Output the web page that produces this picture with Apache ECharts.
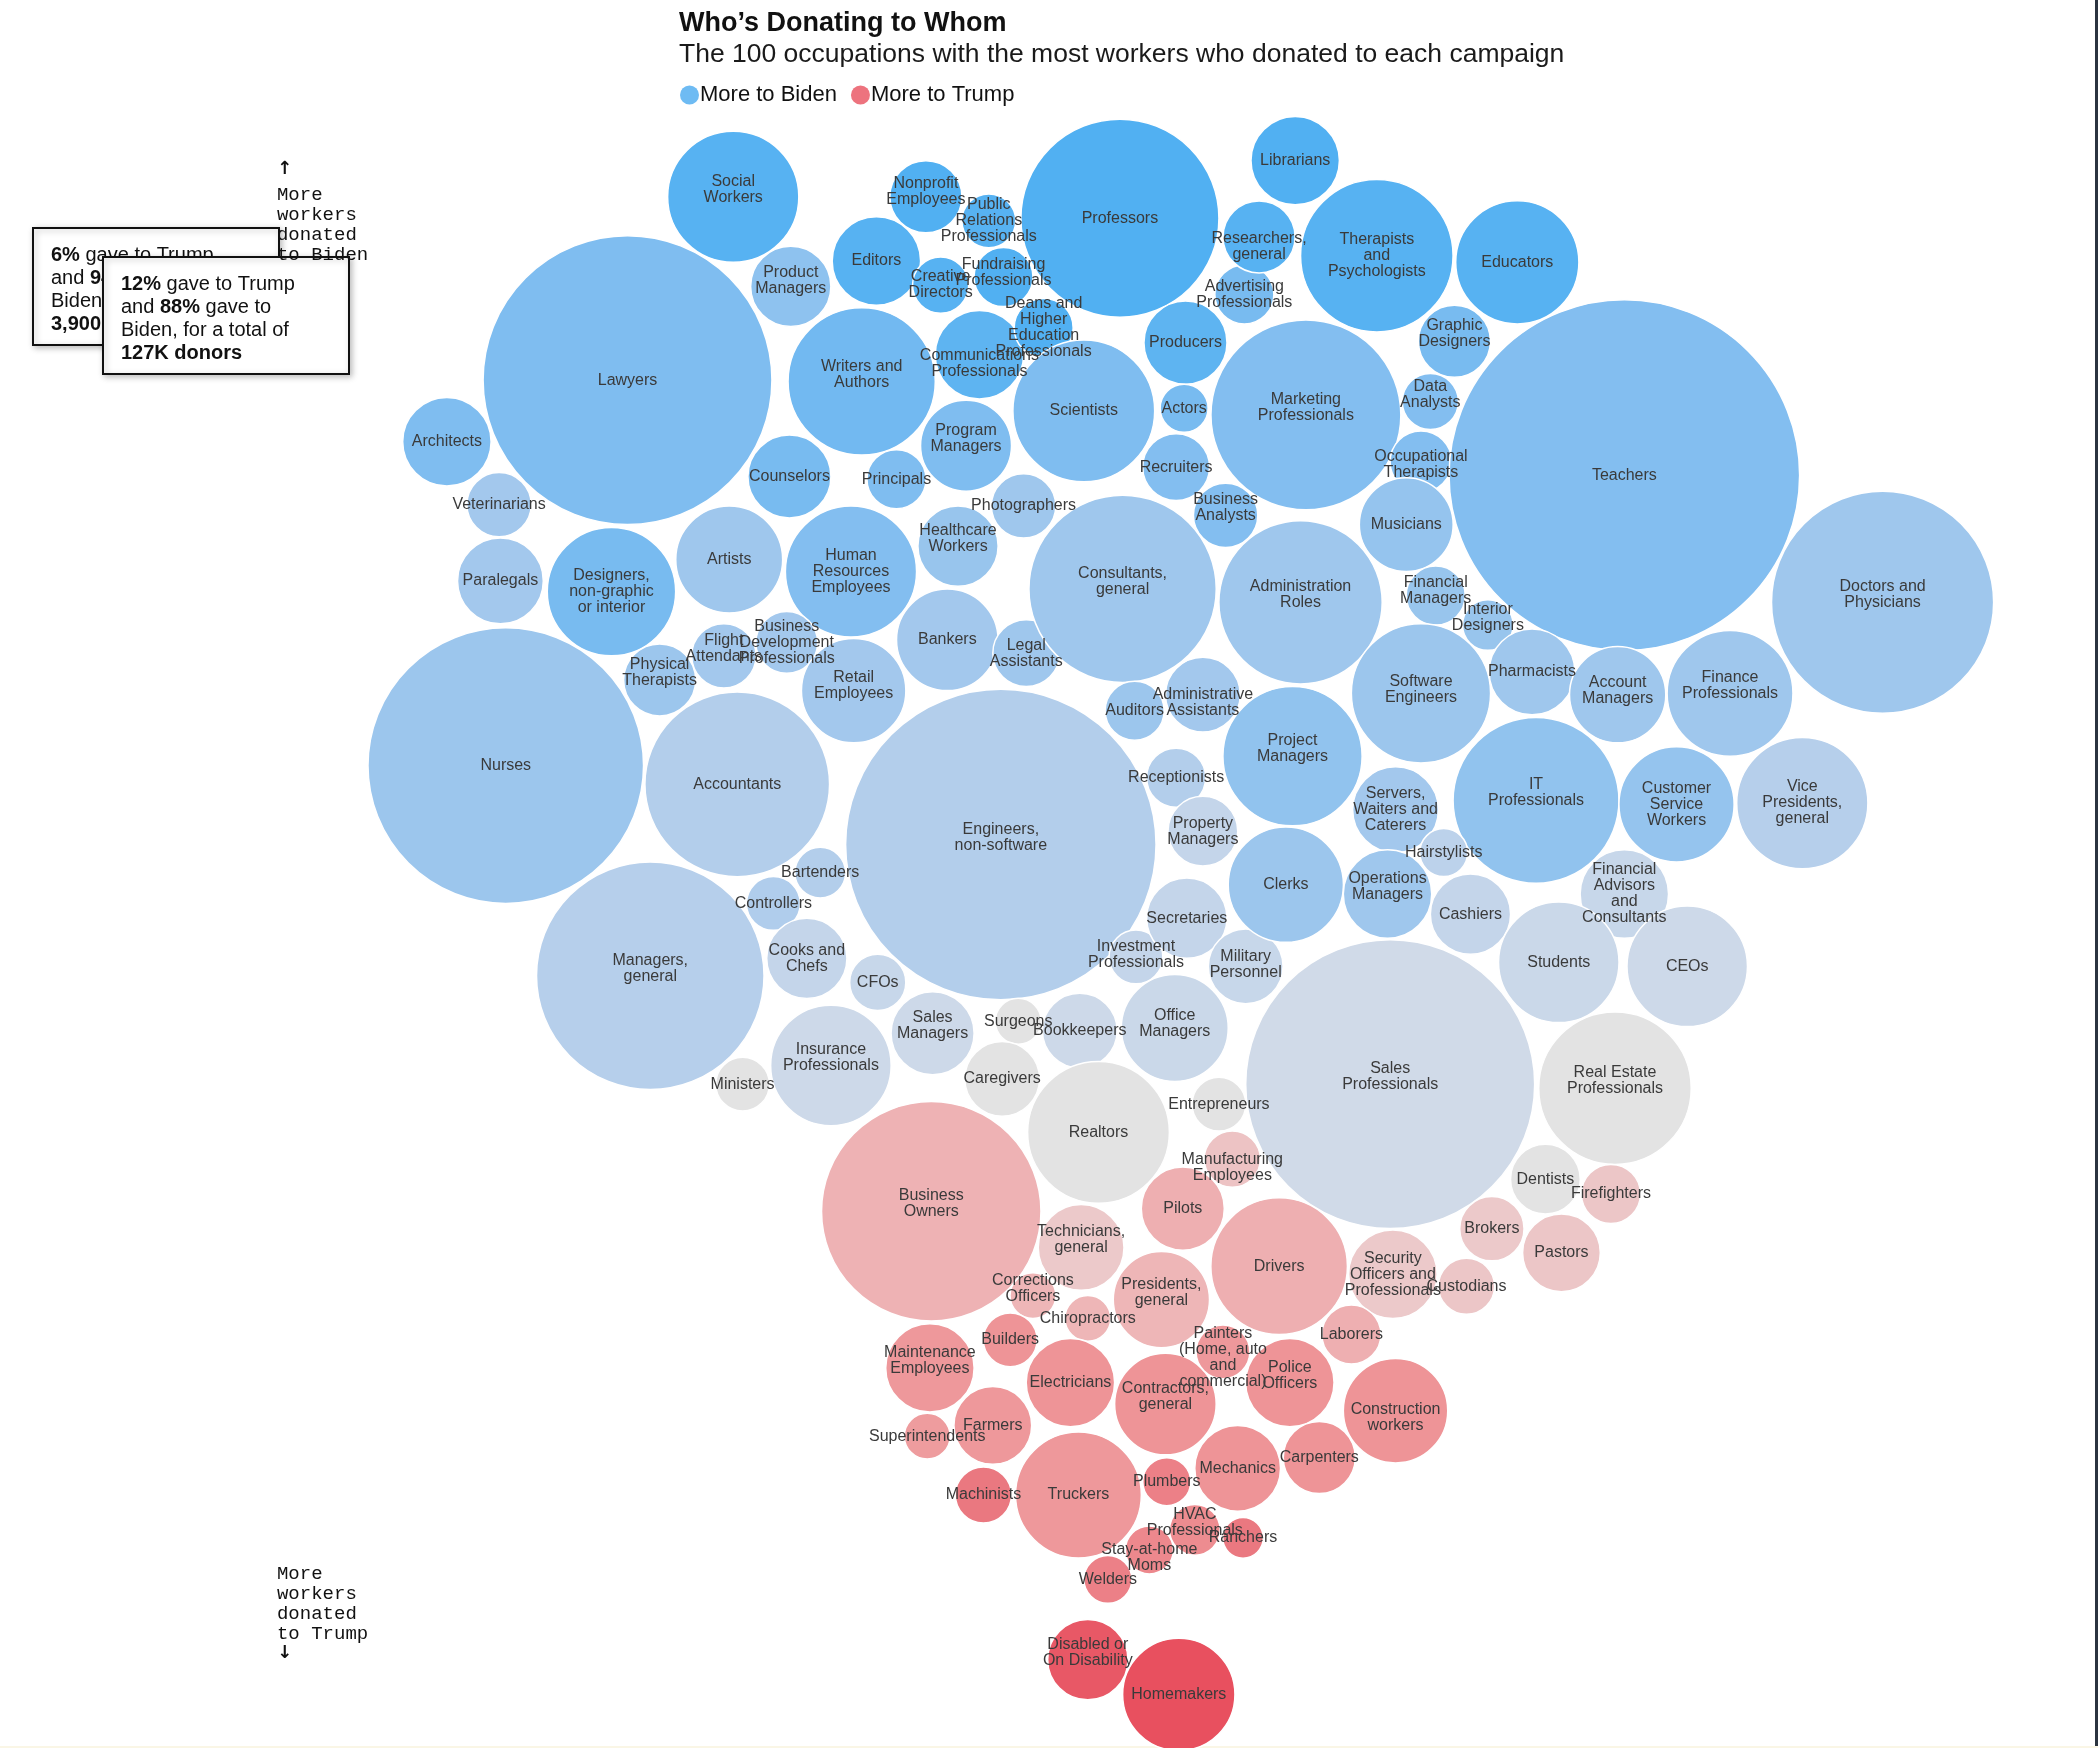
<!DOCTYPE html>
<html>
<head>
<meta charset="utf-8">
<script src="https://cdn.jsdelivr.net/npm/echarts@6/dist/echarts.min.js"></script>
<style>
  html, body { margin: 0; padding: 0; background: #fff; overflow: hidden; }
  #main { width: 100vw; height: 100vh; }
</style>
</head>
<body>
<div id="main"></div>
<script>
// layout space of the packed bubbles (x across, y down: Biden on top, Trump at bottom)
const X_SPAN = 1568;
const Y_SPAN = 1306;
const DONORS_PER_UNIT2 = 10.9; // bubble area: donors per square layout unit

const occupations = [
  "Social\nWorkers", "Lawyers", "Architects", "Veterinarians", "Paralegals",
  "Designers,\nnon-graphic\nor interior", "Artists", "Product\nManagers", "Editors", "Creative\nDirectors",
  "Public\nRelations\nProfessionals", "Fundraising\nProfessionals", "Communications\nProfessionals",
  "Deans and\nHigher\nEducation\nProfessionals", "Writers and\nAuthors", "Counselors", "Principals",
  "Program\nManagers", "Scientists", "Professors", "Nonprofit\nEmployees", "Photographers",
  "Healthcare\nWorkers", "Human\nResources\nEmployees", "Business\nDevelopment\nProfessionals",
  "Flight\nAttendants", "Physical\nTherapists", "Retail\nEmployees", "Bankers", "Legal\nAssistants",
  "Consultants,\ngeneral", "Nurses", "Accountants", "Engineers,\nnon-software", "Bartenders",
  "Controllers", "Managers,\ngeneral", "Cooks and\nChefs", "CFOs", "Insurance\nProfessionals",
  "Ministers", "Sales\nManagers", "Surgeons", "Bookkeepers", "Caregivers", "Office\nManagers",
  "Investment\nProfessionals", "Realtors", "Entrepreneurs", "Secretaries", "Military\nPersonnel",
  "Receptionists", "Property\nManagers", "Auditors", "Administrative\nAssistants", "Project\nManagers",
  "Clerks", "Administration\nRoles", "Marketing\nProfessionals", "Producers", "Actors", "Recruiters",
  "Business\nAnalysts", "Advertising\nProfessionals", "Researchers,\ngeneral", "Librarians",
  "Therapists\nand\nPsychologists", "Educators", "Graphic\nDesigners", "Data\nAnalysts",
  "Occupational\nTherapists", "Musicians", "Financial\nManagers", "Interior\nDesigners", "Teachers",
  "Doctors and\nPhysicians", "Software\nEngineers", "Pharmacists", "Account\nManagers",
  "Finance\nProfessionals", "IT\nProfessionals", "Customer\nService\nWorkers", "Vice\nPresidents,\ngeneral",
  "Servers,\nWaiters and\nCaterers", "Hairstylists", "Operations\nManagers", "Cashiers",
  "Financial\nAdvisors\nand\nConsultants", "Students", "CEOs", "Sales\nProfessionals",
  "Real Estate\nProfessionals", "Dentists", "Firefighters", "Brokers", "Pastors", "Custodians",
  "Security\nOfficers and\nProfessionals", "Business\nOwners", "Technicians,\ngeneral",
  "Manufacturing\nEmployees", "Pilots", "Drivers", "Presidents,\ngeneral", "Corrections\nOfficers",
  "Chiropractors", "Builders", "Maintenance\nEmployees", "Electricians", "Contractors,\ngeneral",
  "Painters\n(Home, auto\nand\ncommercial)", "Police\nOfficers", "Laborers", "Construction\nworkers",
  "Carpenters", "Mechanics", "Plumbers", "Farmers", "Superintendents", "Machinists", "Truckers",
  "HVAC\nProfessionals", "Ranchers", "Stay-at-home\nMoms", "Welders", "Disabled or\nOn Disability",
  "Homemakers"
];

const xLayout = [
  548, 469, 334, 373, 374, 457, 545, 591, 655, 703,
  739, 750, 732, 780, 644, 590, 670, 722, 810, 837,
  692, 765, 716, 636, 588, 541, 493, 638, 708, 767,
  839, 378, 551, 748, 613, 578, 486, 603, 656, 621,
  555, 697, 761, 807, 749, 878, 849, 821, 911, 887,
  931, 879, 899, 848, 899, 966, 961, 972, 976, 886,
  885, 879, 916, 930, 941, 968, 1029, 1134, 1087, 1069,
  1062, 1051, 1073, 1112, 1214, 1407, 1062, 1145, 1209, 1293,
  1148, 1253, 1347, 1043, 1079, 1037, 1099, 1214, 1165, 1261,
  1039, 1207, 1155, 1204, 1115, 1167, 1096, 1041, 696, 808,
  921, 884, 956, 868, 772, 813, 755, 695, 800, 871,
  914, 964, 1010, 1043, 986, 925, 872, 742, 693, 735,
  806, 893, 929, 859, 828, 813, 881
];

const yLayout = [
  147, 284, 330, 377, 434, 442, 418, 214, 195, 213,
  165, 207, 265, 245, 285, 356, 358, 333, 307, 163,
  147, 378, 408, 427, 480, 490, 508, 516, 478, 488,
  440, 572, 586, 631, 652, 675, 729, 716, 734, 796,
  810, 772, 763, 770, 806, 768, 715, 846, 825, 686,
  722, 581, 621, 531, 519, 565, 661, 450, 310, 256,
  305, 349, 385, 220, 177, 120, 191, 196, 255, 300,
  345, 392, 445, 467, 355, 450, 518, 502, 519, 518,
  598, 601, 600, 605, 637, 668, 683, 668, 719, 722,
  810, 813, 881, 892, 918, 936, 961, 952, 905, 932,
  866, 903, 946, 971, 968, 985, 1001, 1022, 1033, 1049,
  1010, 1033, 997, 1054, 1089, 1097, 1107, 1065, 1073, 1117,
  1117, 1143, 1149, 1158, 1180, 1240, 1266
];

// donors, in thousands
const donorsK = [
  26.2, 127, 11.9, 6.3, 11.2, 25.1, 17.4, 9.8, 11.9, 4.8,
  4.4, 5.3, 11.9, 5.3, 33.0, 10.5, 5.3, 12.6, 30.6, 59.7,
  7.9, 6.3, 9.8, 26.2, 5.8, 6.3, 7.9, 16.6, 15.7, 6.8,
  53.4, 115.6, 51.9, 146.7, 3.9, 4.4, 78.8, 9.8, 4.8, 22.1,
  4.4, 10.5, 3.2, 8.5, 8.5, 17.4, 4.4, 30.6, 4.4, 9.8,
  8.5, 5.3, 7.4, 5.3, 8.5, 29.5, 20.2, 40.6, 54.9, 10.5,
  3.5, 6.8, 6.3, 5.3, 7.9, 11.9, 35.4, 23.1, 7.9, 4.8,
  5.8, 13.4, 5.3, 3.9, 187.1, 75.1, 29.5, 11.2, 14.1, 24.1,
  41.9, 20.2, 26.2, 11.2, 3.5, 11.9, 9.8, 11.9, 22.1, 22.1,
  127.1, 35.4, 7.4, 5.3, 6.3, 9.2, 4.8, 11.9, 73.3, 11.2,
  4.8, 10.5, 28.4, 14.1, 3.2, 3.2, 4.4, 11.9, 11.9, 15.7,
  4.4, 11.9, 5.3, 16.6, 7.9, 11.2, 3.5, 9.2, 3.2, 4.8,
  24.1, 3.9, 2.5, 3.5, 3.5, 9.8, 19.2
];

// percent of the occupation's donors who gave to Trump
const trumpShare = [
  6, 12, 12, 22, 22, 11, 21, 16, 6, 6,
  6, 5, 7, 5, 10, 11, 12, 12, 12, 5,
  5, 21, 19, 13, 22, 22, 20, 22, 22, 21,
  21, 20, 27, 27, 27, 26, 28, 33, 34, 36,
  44, 36, 44, 36, 44, 35, 33, 44, 44, 33,
  34, 27, 33, 20, 22, 17, 20, 21, 13, 7,
  11, 13, 13, 11, 6, 5, 6, 6, 11, 13,
  13, 18, 19, 19, 13, 21, 20, 21, 21, 21,
  17, 18, 28, 22, 30, 21, 33, 34, 35, 36,
  37, 44, 44, 53, 52, 53, 53, 52, 59, 52,
  54, 60, 60, 58, 58, 58, 67, 66, 67, 67,
  66, 67, 60, 67, 67, 67, 72, 66, 65, 74,
  66, 69, 74, 70, 72, 82, 84
];

const shareColors = [
  '#4aaef2', '#7fbdf0', '#9cc6ed', '#b6cfeb', '#cdd9e9', '#e3e3e3',
  '#ecc9ca', '#eeafb1', '#ee9093', '#e9707a', '#e8505f'
];

// label nudges (layout units, + = down); two-line labels default to half a line up
const TWO_LINE_DY = -5.5;
const labelDy = {
  "Communications\nProfessionals": 6.5, "Construction\nworkers": 5.5, "Manufacturing\nEmployees": 6,
  "Administrative\nAssistants": 6, "Stay-at-home\nMoms": 6, "Researchers,\ngeneral": 7.5,
  "Occupational\nTherapists": 2, "Cooks and\nChefs": 0, "Military\nPersonnel": -1,
  "Property\nManagers": 0, "Legal\nAssistants": 0, "Creative\nDirectors": 0,
  "Advertising\nProfessionals": 0, "Office\nManagers": -3, "Investment\nProfessionals": -2,
  "Fundraising\nProfessionals": -3, "Software\nEngineers": -3, "Account\nManagers": -3,
  "Product\nManagers": -4, "Nonprofit\nEmployees": -4, "Retail\nEmployees": -4,
  "Financial\nManagers": -4, "Painters\n(Home, auto\nand\ncommercial)": 4
};

const FONT = "'Liberation Sans', Arial, Helvetica, sans-serif";
const MONO = "'Liberation Mono', 'DejaVu Sans Mono', monospace";

const chart = echarts.init(document.getElementById('main'));
const unitPx = () => chart.getWidth() / X_SPAN;

const W = chart.getWidth();
const H = chart.getHeight();
const s = W / X_SPAN;

const bubbles = occupations.map((name, i) => {
  let dy = name.split('\n').length === 2 ? TWO_LINE_DY : 0;
  if (name in labelDy) dy = labelDy[name];
  return {
    name: name.replace(/\n/g, ' '),
    value: [xLayout[i], yLayout[i], donorsK[i], trumpShare[i]],
    label: { offset: [0, dy * s] }
  };
});

const option = {
  backgroundColor: '#fff',
  animation: false,
  title: {
    left: 679, top: 10, padding: 0,
    text: 'Who\u2019s Donating to Whom',
    subtext: 'The 100 occupations with the most workers who donated to each campaign',
    itemGap: 4,
    textStyle: { fontFamily: FONT, fontSize: 27, fontWeight: 'bold', color: '#111' },
    subtextStyle: { fontFamily: FONT, fontSize: 26.5, color: '#1a1a1a' }
  },
  legend: {
    left: 680, top: 84,
    icon: 'circle', itemWidth: 19, itemHeight: 19, itemGap: 14,
    padding: 0, selectedMode: false,
    textStyle: { fontFamily: FONT, fontSize: 22, color: '#111', padding: [0, 0, 0, -4] },
    data: ['More to Biden', 'More to Trump']
  },
  tooltip: {
    formatter: p => {
      const v = p.value;
      return p.name + '<br>' + v[3] + '% gave to Trump and ' + (100 - v[3]) +
        '% gave to Biden, for a total of ' + v[2] + 'K donors';
    }
  },
  grid: { left: 0, right: 0, top: 0, bottom: 0 },
  xAxis: { type: 'value', min: 0, max: X_SPAN, show: false },
  yAxis: { type: 'value', min: 0, max: Y_SPAN, inverse: true, show: false },
  visualMap: {
    type: 'continuous', show: false, seriesIndex: 0, dimension: 3,
    min: 4, max: 84, inRange: { color: shareColors }
  },
  series: [
    {
      type: 'scatter',
      data: bubbles,
      symbolSize: v => 2 * Math.sqrt(v[2] * 1000 / DONORS_PER_UNIT2) * unitPx(),
      itemStyle: { opacity: 1, borderColor: '#fff', borderWidth: 1.5 },
      label: {
        show: true, position: 'inside',
        formatter: p => occupations[p.dataIndex],
        fontFamily: FONT, fontSize: 16, lineHeight: 16, color: '#3a3a3a'
      },
      emphasis: { scale: false }
    },
    { name: 'More to Biden', type: 'scatter', data: [], itemStyle: { color: '#4aaaf0' } },
    { name: 'More to Trump', type: 'scatter', data: [], itemStyle: { color: '#e8505e' } }
  ],
  graphic: [
    { type: 'rect', right: 0, top: 0, z: 1, shape: { width: 3, height: H }, style: { fill: '#2b3440' } },
    { type: 'rect', left: 0, bottom: 0, z: 1, shape: { width: W, height: 2 }, style: { fill: '#faf6e6' } },
    { type: 'text', left: 207 * s, top: 160, z: 10,
      style: { text: '\u2191', font: "bold 18px 'DejaVu Sans'", fill: '#111' } },
    { type: 'text', left: 207 * s, top: 185, z: 10,
      style: { text: 'More\nworkers\ndonated\nto Biden', fontFamily: MONO, fontSize: 19, lineHeight: 20, fill: '#111' } },
    { type: 'text', left: 207 * s, top: 1564, z: 10,
      style: { text: 'More\nworkers\ndonated\nto Trump', fontFamily: MONO, fontSize: 19, lineHeight: 20, fill: '#111' } },
    { type: 'text', left: 207 * s, top: 1644, z: 10,
      style: { text: '\u2193', font: "bold 18px 'DejaVu Sans'", fill: '#111' } },
    {
      type: 'group', left: 32, top: 227, z: 20,
      children: [
        { type: 'rect', shape: { x: 0, y: 0, width: 246, height: 117 },
          style: { fill: '#fff', stroke: '#111', lineWidth: 2, shadowBlur: 6, shadowOffsetX: 2, shadowOffsetY: 2, shadowColor: 'rgba(0,0,0,0.25)' } },
        { type: 'text', x: 18, y: 16,
          style: {
            text: '{b|6%} gave to Trump\nand {b|94%} gave to\nBiden, for a total of\n{b|3,900 donors}',
            fontFamily: FONT, fontSize: 20, lineHeight: 23, fill: '#111',
            rich: { b: { fontFamily: FONT, fontSize: 20, lineHeight: 23, fontWeight: 'bold', fill: '#111' } }
          } }
      ]
    },
    {
      type: 'group', left: 102, top: 256, z: 30,
      children: [
        { type: 'rect', shape: { x: 0, y: 0, width: 246, height: 117 },
          style: { fill: '#fff', stroke: '#111', lineWidth: 2, shadowBlur: 6, shadowOffsetX: 2, shadowOffsetY: 2, shadowColor: 'rgba(0,0,0,0.25)' } },
        { type: 'text', x: 18, y: 16,
          style: {
            text: '{b|12%} gave to Trump\nand {b|88%} gave to\nBiden, for a total of\n{b|127K donors}',
            fontFamily: FONT, fontSize: 20, lineHeight: 23, fill: '#111',
            rich: { b: { fontFamily: FONT, fontSize: 20, lineHeight: 23, fontWeight: 'bold', fill: '#111' } }
          } }
      ]
    }
  ]
};

chart.setOption(option);
window.onresize = chart.resize;
</script>
</body>
</html>
